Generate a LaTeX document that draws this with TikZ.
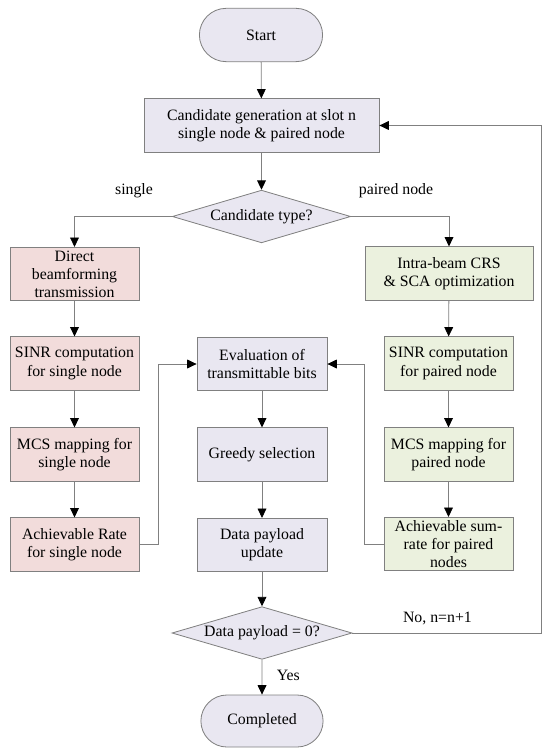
\documentclass[tikz,border=0pt]{standalone}
\usepackage{fontspec}
\setmainfont{Liberation Serif}
\usepackage{xcolor}
\usetikzlibrary{arrows.meta, positioning, shapes.geometric, shapes.misc}

\definecolor{boxgray}{HTML}{E9E7F1}
\definecolor{boxpink}{HTML}{F2DCDB}
\definecolor{boxgreen}{HTML}{EBF1DE}
\definecolor{edgegray}{HTML}{808080}

\begin{document}
\begin{tikzpicture}[
  x=0.3mm, y=-0.3mm,
  every node/.style={font=\fontsize{13.5}{15.5}\selectfont},
  proc/.style={draw=edgegray, line width=0.7pt, minimum width=3.87cm, minimum height=1.6cm, inner sep=2pt, align=center, fill=boxgray},
  singleproc/.style={proc, fill=boxpink},
  pairproc/.style={proc, fill=boxgreen},
  terminal/.style={draw=edgegray, line width=0.7pt, rounded rectangle, fill=boxgray, minimum width=3.93cm, minimum height=1.6cm},
  decision/.style={draw=edgegray, line width=0.7pt, diamond, aspect=3.4, fill=boxgray, inner sep=1pt, minimum width=5.35cm, minimum height=1.58cm},
  flow/.style={draw=edgegray, line width=0.7pt, -{Triangle[length=8pt, width=7.5pt, color=black]}},
]
\useasboundingbox (0,0) rectangle (550,755);

% main column
\node[terminal] (start) at (261,35) {Start};
\node[proc, minimum width=7.05cm] (cand) at (261.5,125.5) {Candidate generation at slot n\\single node \& paired node};
\node[decision] (type) at (261.5,216.5) {Candidate type?};

% single node branch
\node[singleproc] (direct) at (74.5,274) {Direct\\beamforming\\transmission};
\node[singleproc] (sinr1) at (74.5,363.5) {SINR computation\\for single node};
\node[singleproc] (mcs1) at (74.5,454.5) {MCS mapping for\\single node};
\node[singleproc] (ach1) at (74.5,544.5) {Achievable Rate\\for single node};

% paired node branch
\node[pairproc, minimum width=5.04cm] (intra) at (449,273.5) {Intra-beam CRS\\\& SCA optimization};
\node[pairproc] (sinr2) at (448.5,363.5) {SINR computation\\for paired node};
\node[pairproc] (mcs2) at (448.5,454.5) {MCS mapping for\\paired node};
\node[pairproc] (ach2) at (448.5,544) {Achievable sum-\\rate for paired\\nodes};

% selection
\node[proc, minimum width=3.9cm] (eval) at (262,364) {Evaluation of\\transmittable bits};
\node[proc, minimum width=3.9cm] (greedy) at (262,454.5) {Greedy selection};
\node[proc, minimum width=3.9cm] (pay) at (262,545) {Data payload\\update};
\node[decision, minimum width=5.4cm] (zero) at (262,633) {Data payload = 0?};
\node[terminal, minimum width=3.9cm, minimum height=1.56cm] (done) at (262,721) {Completed};

% branch labels
\node (lsingle) at (134,191) {single};
\node (lpaired) at (396,191) {paired node};

% flow
\draw[flow] (start) -- (cand);
\draw[flow] (cand) -- (type);
\draw[flow] (type.west) -| (direct.north);
\draw[flow] (type.east) -| (intra.north);
\draw[flow] (direct) -- (sinr1);
\draw[flow] (sinr1) -- (mcs1);
\draw[flow] (mcs1) -- (ach1);
\draw[flow] (intra) -- (sinr2);
\draw[flow] (sinr2) -- (mcs2);
\draw[flow] (mcs2) -- (ach2);
\draw[flow] (ach1.east) -- ++(19,0) |- (eval.west);
\draw[flow] (ach2.west) -- ++(-19,0) |- (eval.east);
\draw[flow] (eval) -- (greedy);
\draw[flow] (greedy) -- (pay);
\draw[flow] (pay) -- (zero);
\draw[flow] (zero) -- (done) node[pos=0.45, right=9pt] {Yes};
\draw[flow] (zero.east) -- ++(189,0) node[pos=0.45, above=3pt] {No, n=n+1} |- (cand.east);

\end{tikzpicture}
\end{document}
